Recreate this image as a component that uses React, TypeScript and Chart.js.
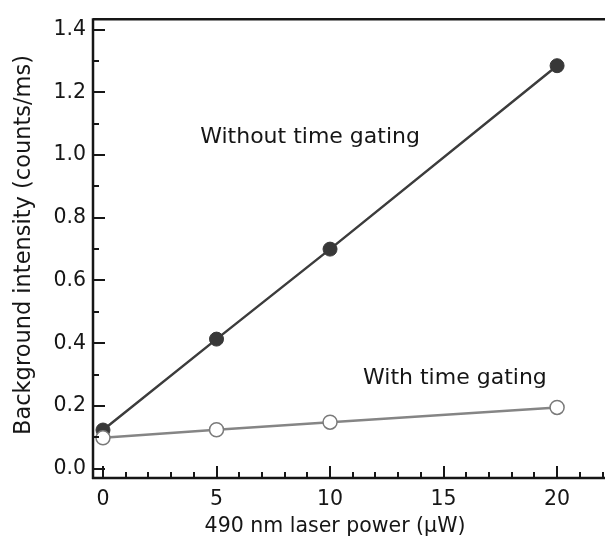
import React, { useEffect, useRef } from "react";
import { Chart, registerables } from "chart.js";

Chart.register(...registerables);

// ---- data ----
const POWER_UW = [0, 5, 10, 20];
const WITHOUT_GATING = [0.123, 0.413, 0.7, 1.285];
const WITH_GATING = [0.098, 0.124, 0.148, 0.195];

const X_TICKS = [0, 5, 10, 15, 20];
const X_MINOR_TICKS = [1, 2, 3, 4, 6, 7, 8, 9, 11, 12, 13, 14, 16, 17, 18, 19, 21, 22];
const Y_TICKS = [0, 0.2, 0.4, 0.6, 0.8, 1.0, 1.2, 1.4];
const Y_MINOR_TICKS = [0.1, 0.3, 0.5, 0.7, 0.9, 1.1, 1.3];

const X_RANGE = [-0.44, 22.11];
const Y_RANGE = [-0.03, 1.433];

const X_TITLE = "490 nm laser power (\u00b5W)";
const Y_TITLE = "Background intensity (counts/ms)";

// annotation labels, placed in data coordinates
const LABEL_TEXTS = ["Without time gating", "With time gating"];
const LABEL_X = [9.12, 15.5];
const LABEL_Y = [1.058, 0.287];

const FONT = "'DejaVu Sans', 'Liberation Sans', Arial, sans-serif";
const INK = "#161616";

const framePlugin = {
  id: "framePlugin",
  afterDraw(chart: any) {
    const { ctx, chartArea, scales } = chart;
    const { left, right, top, bottom } = chartArea;
    const xs = scales.x;
    const ys = scales.y;
    ctx.save();
    ctx.strokeStyle = INK;
    ctx.lineWidth = 2.5;
    ctx.lineCap = "butt";

    // axis lines and top border
    ctx.beginPath();
    ctx.moveTo(left, top);
    ctx.lineTo(right, top);
    ctx.moveTo(left, top - 1);
    ctx.lineTo(left, bottom + 1);
    ctx.moveTo(left - 1, bottom);
    ctx.lineTo(right, bottom);
    ctx.stroke();

    // inward ticks
    ctx.lineWidth = 2;
    ctx.beginPath();
    X_TICKS.forEach((v) => {
      const p = Math.round(xs.getPixelForValue(v));
      ctx.moveTo(p, bottom);
      ctx.lineTo(p, bottom - 12);
    });
    X_MINOR_TICKS.forEach((v) => {
      const p = Math.round(xs.getPixelForValue(v));
      ctx.moveTo(p, bottom);
      ctx.lineTo(p, bottom - 6);
    });
    Y_TICKS.forEach((v) => {
      const p = Math.round(ys.getPixelForValue(v));
      ctx.moveTo(left, p);
      ctx.lineTo(left + 12, p);
    });
    Y_MINOR_TICKS.forEach((v) => {
      const p = Math.round(ys.getPixelForValue(v));
      ctx.moveTo(left, p);
      ctx.lineTo(left + 6, p);
    });
    ctx.stroke();

    // annotation labels
    ctx.fillStyle = INK;
    ctx.textAlign = "center";
    ctx.textBaseline = "middle";
    ctx.font = `22px ${FONT}`;
    LABEL_TEXTS.forEach((t, i) => {
      ctx.fillText(t, xs.getPixelForValue(LABEL_X[i]), ys.getPixelForValue(LABEL_Y[i]));
    });

    // axis titles
    ctx.font = `20.5px ${FONT}`;
    ctx.fillText(X_TITLE, 335, 527);
    ctx.save();
    ctx.translate(24, 245);
    ctx.rotate(-Math.PI / 2);
    ctx.font = `22.5px ${FONT}`;
    ctx.fillText(Y_TITLE, 0, 0);
    ctx.restore();

    ctx.restore();
  },
};

export default function App() {
  const ref = useRef<HTMLCanvasElement | null>(null);

  useEffect(() => {
    if (!ref.current) return;
    const chart = new Chart(ref.current, {
      type: "line",
      data: {
        datasets: [
          {
            label: "With time gating",
            data: POWER_UW.map((x, i) => ({ x, y: WITH_GATING[i] })),
            borderColor: "#858585",
            borderWidth: 2.5,
            pointRadius: 7,
            pointBackgroundColor: "#ffffff",
            pointBorderColor: "#7a7a7a",
            pointBorderWidth: 1.5,
            tension: 0,
            fill: false,
          },
          {
            label: "Without time gating",
            data: POWER_UW.map((x, i) => ({ x, y: WITHOUT_GATING[i] })),
            borderColor: "#3c3c3c",
            borderWidth: 2.5,
            pointRadius: 7,
            pointBackgroundColor: "#383838",
            pointBorderColor: "#383838",
            pointBorderWidth: 1,
            tension: 0,
            fill: false,
          },
        ],
      },
      options: {
        animation: false,
        responsive: false,
        maintainAspectRatio: false,
        events: [],
        layout: { autoPadding: false, padding: { top: 13, right: 0, bottom: 0, left: 0 } },
        plugins: { legend: { display: false }, tooltip: { enabled: false }, title: { display: false } },
        scales: {
          x: {
            type: "linear",
            min: X_RANGE[0],
            max: X_RANGE[1],
            grid: { display: false, drawTicks: false },
            border: { display: false },
            afterBuildTicks: (s: any) => {
              s.ticks = X_TICKS.map((value) => ({ value }));
            },
            afterFit: (s: any) => {
              s.height = 68;
            },
            ticks: {
              padding: 9,
              color: INK,
              font: { family: FONT, size: 20.5 },
              maxRotation: 0,
              autoSkip: false,
              callback: (v: any) => String(v),
            },
          },
          y: {
            type: "linear",
            min: Y_RANGE[0],
            max: Y_RANGE[1],
            grid: { display: false, drawTicks: false },
            border: { display: false },
            afterBuildTicks: (s: any) => {
              s.ticks = Y_TICKS.map((value) => ({ value }));
            },
            afterFit: (s: any) => {
              s.width = 93;
            },
            ticks: {
              padding: 7,
              color: INK,
              font: { family: FONT, size: 20.5 },
              autoSkip: false,
              callback: (v: any) => Number(v).toFixed(1),
            },
          },
        },
      },
      plugins: [framePlugin],
    });
    return () => chart.destroy();
  }, []);

  return (
    <div style={{ position: "fixed", left: 0, top: 0, width: 605, height: 546, background: "#fff" }}>
      <canvas ref={ref} width={605} height={546} style={{ display: "block" }} />
    </div>
  );
}
